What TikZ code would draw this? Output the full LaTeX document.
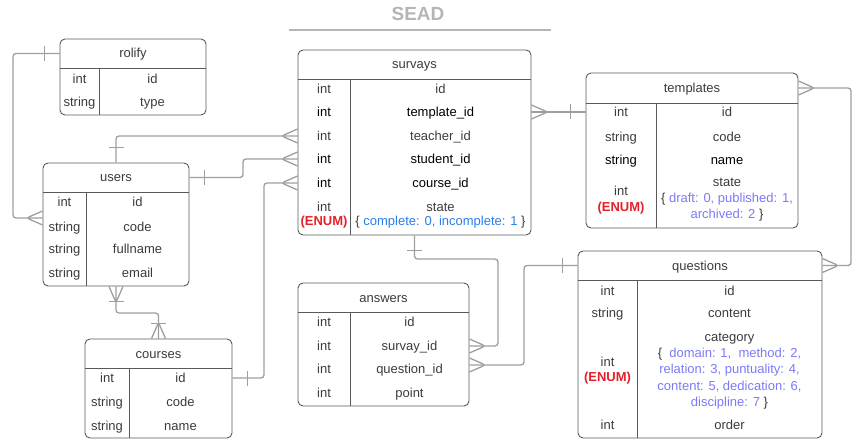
\documentclass[tikz,border=0pt]{standalone}
\usepackage{fontspec}
\setmainfont{Liberation Sans}
\definecolor{boxc}{HTML}{5A5A5A}
\definecolor{linkc}{HTML}{9E9E9E}
\definecolor{txt}{HTML}{3B3B3B}
\definecolor{enumred}{HTML}{E5202A}
\definecolor{valblue}{HTML}{2B7DE9}
\definecolor{valpurple}{HTML}{7A7AF7}
\definecolor{titlec}{HTML}{B5B5B5}

\begin{document}
\begin{tikzpicture}[x=1pt, y=-1pt,
    tbl/.style={draw=boxc, line width=0.9pt, rounded corners=5pt, inner sep=0pt},
    sep/.style={draw=boxc, line width=0.9pt},
    cell/.style={text=txt, font=\fontsize{13}{16}\selectfont, inner sep=0pt, text height=9.5pt, text depth=0.5pt},
    mcell/.style={text=txt, inner sep=0pt, align=center},
    dark/.style={text=black},
    link/.style={draw=linkc, line width=1.3pt, rounded corners=3pt},
    crowfoot/.pic={\draw[link] (0,-7) -- (16,0) -- (0,7);},
    onebar/.pic={\draw[link] (15,-7.5) -- (15,7.5);}]
    \useasboundingbox (0,0) rectangle (861,446);

    % Title
    \node[font=\fontsize{19}{19}\selectfont\bfseries, text=titlec] (title) at (418,14) {SEAD};
    \draw[titlec, line width=1.5pt] (289,30) -- (551,30);

    % rolify
    \node[tbl, minimum width=146pt, minimum height=76pt] (rolify) at (133,77) {};
    \draw[sep] (60,68) -- (206,68) (99,68) -- (99,115);
    \node[cell] (rolify-t) at (133,53.5) {rolify};
    \node[cell] (rolify-t1) at (79.5,79) {int};
    \node[cell] (rolify-n1) at (152.5,79) {id};
    \node[cell] (rolify-t2) at (79.5,102) {string};
    \node[cell] (rolify-n2) at (152.5,102) {type};

    % users
    \node[tbl, minimum width=146pt, minimum height=123pt] (users) at (116,224.5) {};
    \draw[sep] (43,192) -- (189,192) (86,192) -- (86,286);
    \node[cell] (users-t) at (116,177.5) {users};
    \node[cell] (users-t1) at (64.5,202) {int};
    \node[cell] (users-n1) at (137.5,202) {id};
    \node[cell] (users-t2) at (64.5,227) {string};
    \node[cell] (users-n2) at (137.5,227) {code};
    \node[cell] (users-t3) at (64.5,249) {string};
    \node[cell] (users-n3) at (137.5,249) {fullname};
    \node[cell] (users-t4) at (64.5,273) {string};
    \node[cell] (users-n4) at (137.5,273) {email};

    % survays
    \node[tbl, minimum width=233pt, minimum height=185pt] (survays) at (414.5,142.5) {};
    \draw[sep] (298,79) -- (531,79) (350,79) -- (350,235);
    \node[cell] (survays-t) at (414.5,64.5) {survays};
    \node[cell] (sv-t1) at (324,89) {int};
    \node[cell] (sv-id) at (440.5,89) {id};
    \node[cell, dark] (sv-t2) at (324,112) {int};
    \node[cell, dark] (sv-template) at (440.5,112) {template\_id};
    \node[cell] (sv-t3) at (324,136) {int};
    \node[cell] (sv-teacher) at (440.5,136) {teacher\_id};
    \node[cell, dark] (sv-t4) at (324,159) {int};
    \node[cell, dark] (sv-student) at (440.5,159) {student\_id};
    \node[cell, dark] (sv-t5) at (324,183) {int};
    \node[cell, dark] (sv-course) at (440.5,183) {course\_id};
    \node[mcell, font=\fontsize{13}{14}\selectfont] (sv-t6) at (324,215.4)
        {int\\\textcolor{enumred}{\bfseries (ENUM)}};
    \node[mcell, font=\fontsize{13}{14}\selectfont] (sv-state) at (440.5,215.4)
        {state\\\{ \textcolor{valblue}{complete: 0, incomplete: 1} \}};

    % templates
    \node[tbl, minimum width=212pt, minimum height=155pt] (templates) at (692,150.5) {};
    \draw[sep] (586,103) -- (798,103) (656,103) -- (656,228);
    \node[cell] (templates-t) at (692,88) {templates};
    \node[cell] (tp-t1) at (621,112) {int};
    \node[cell] (tp-id) at (727,112) {id};
    \node[cell] (tp-t2) at (621,137) {string};
    \node[cell] (tp-code) at (727,137) {code};
    \node[cell, dark] (tp-t3) at (621,160) {string};
    \node[cell, dark] (tp-name) at (727,160) {name};
    \node[mcell, font=\fontsize{13}{16}\selectfont] (tp-t4) at (621,200.5)
        {int\\\textcolor{enumred}{\bfseries (ENUM)}};
    \node[mcell, font=\fontsize{13}{16}\selectfont] (tp-state) at (727,199.5)
        {state\\\{ \textcolor{valpurple}{draft: 0, published: 1,}\\\textcolor{valpurple}{archived: 2} \}};

    % questions
    \node[tbl, minimum width=244pt, minimum height=187pt] (questions) at (700,344.5) {};
    \draw[sep] (578,280) -- (822,280) (637,280) -- (637,438);
    \node[cell] (questions-t) at (700,265.5) {questions};
    \node[cell] (qs-t1) at (607.5,291) {int};
    \node[cell] (qs-id) at (729.5,291) {id};
    \node[cell] (qs-t2) at (607.5,313) {string};
    \node[cell] (qs-content) at (729.5,313) {content};
    \node[mcell, font=\fontsize{13}{15}\selectfont] (qs-t3) at (607.5,371)
        {int\\\textcolor{enumred}{\bfseries (ENUM)}};
    \node[mcell, font=\fontsize{13}{16.25}\selectfont] (qs-category) at (729.5,371)
        {category\\\{\ \ \textcolor{valpurple}{domain: 1,\ \ method: 2,}\\
         \textcolor{valpurple}{relation: 3, puntuality: 4,}\\
         \textcolor{valpurple}{content: 5, dedication: 6,}\\
         \textcolor{valpurple}{discipline: 7} \}};
    \node[cell] (qs-t4) at (607.5,425) {int};
    \node[cell] (qs-order) at (729.5,425) {order};

    % answers
    \node[tbl, minimum width=171pt, minimum height=123pt] (answers) at (383.5,344.5) {};
    \draw[sep] (298,312) -- (469,312) (350,312) -- (350,406);
    \node[cell] (answers-t) at (383.5,297.5) {answers};
    \node[cell] (an-t1) at (324,322) {int};
    \node[cell] (an-id) at (409.5,322) {id};
    \node[cell] (an-t2) at (324,346) {int};
    \node[cell] (an-survay) at (409.5,346) {survay\_id};
    \node[cell] (an-t3) at (324,369) {int};
    \node[cell] (an-question) at (409.5,369) {question\_id};
    \node[cell] (an-t4) at (324,393) {int};
    \node[cell] (an-point) at (409.5,393) {point};

    % courses
    \node[tbl, minimum width=147pt, minimum height=99pt] (courses) at (158.5,388.5) {};
    \draw[sep] (85,368) -- (232,368) (129,368) -- (129,438);
    \node[cell] (courses-t) at (158.5,353.5) {courses};
    \node[cell] (courses-t1) at (107,378) {int};
    \node[cell] (courses-n1) at (180.5,378) {id};
    \node[cell] (courses-t2) at (107,402) {string};
    \node[cell] (courses-n2) at (180.5,402) {code};
    \node[cell] (courses-t3) at (107,426) {string};
    \node[cell] (courses-n3) at (180.5,426) {name};

    % relations
    \draw[link] (rolify.west |- rolify-t) -- (13,53.5) -- (13,218) -- (users.west |- 0,218);
    \pic[rotate=180] at (rolify.west |- rolify-t) {onebar};
    \pic[rotate=180] at (users.west |- 0,218) {crowfoot};

    \draw[link] (users.north) -- (users.north |- sv-teacher) -- (survays.west |- sv-teacher);
    \pic[rotate=90] at (users.north) {onebar};
    \pic[rotate=180] at (survays.west |- sv-teacher) {crowfoot};

    \draw[link] (users.east |- users-t) -- (243,177.5) -- (243,159) -- (survays.west |- sv-student);
    \pic at (users.east |- users-t) {onebar};
    \pic[rotate=180] at (survays.west |- sv-student) {crowfoot};

    \draw[link] (courses.east |- courses-n1) -- (264,378) -- (264,183) -- (survays.west |- sv-course);
    \pic at (courses.east |- courses-n1) {onebar};
    \pic[rotate=180] at (survays.west |- sv-course) {crowfoot};

    \draw[link] (users.south) -- (116,313) -- (158.5,313) -- (courses.north);
    \pic[rotate=-90] at (users.south) {crowfoot};
    \pic[rotate=-90] at (users.south) {onebar};
    \pic[rotate=90] at (courses.north) {crowfoot};
    \pic[rotate=90] at (courses.north) {onebar};

    \draw[link] (survays.south) -- (414.5,259) -- (498,259) -- (498,346) -- (answers.east |- an-survay);
    \pic[rotate=-90] at (survays.south) {onebar};
    \pic at (answers.east |- an-survay) {crowfoot};

    \draw[link] (questions.west |- questions-t) -- (524,265.5) -- (524,365) -- (answers.east |- 0,365);
    \pic[rotate=180] at (questions.west |- questions-t) {onebar};
    \pic at (answers.east |- 0,365) {crowfoot};

    \draw[link] (survays.east |- sv-template) -- (templates.west |- tp-id);
    \pic at (survays.east |- sv-template) {crowfoot};
    \pic[rotate=180] at (templates.west |- tp-id) {onebar};

    \draw[link] (templates.east |- templates-t) -- (851,88) -- (851,265.5) -- (questions.east |- questions-t);
    \pic at (templates.east |- templates-t) {crowfoot};
    \pic at (questions.east |- questions-t) {crowfoot};
\end{tikzpicture}
\end{document}
